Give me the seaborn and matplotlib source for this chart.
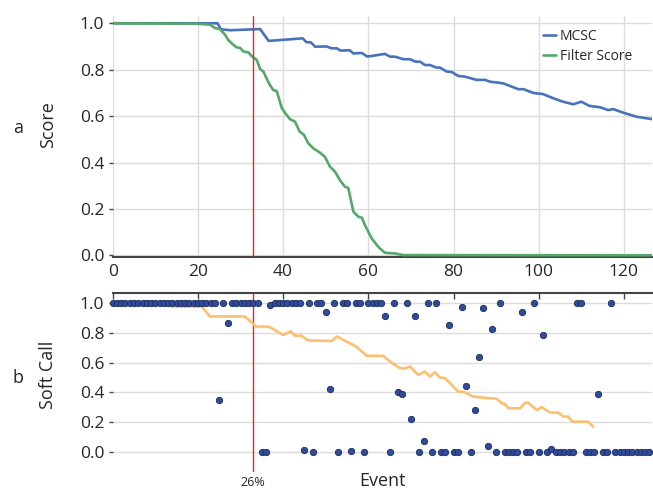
import pandas as pd
import seaborn as sns
import matplotlib.pyplot as plt

# panel a: score curves, vertices (event, score)
mcsc_x = [0, 24.6, 25.4, 27.6, 34.6, 36.6, 44.6, 45.5, 46.5, 47.5, 50.2, 51.4, 52.6, 53.5,
          55.6, 56.5, 58.5, 59.7, 60.8, 62.8, 63.9, 65.1, 66.3, 68.2, 69.8, 71.0, 72.2,
          73.3, 74.5, 76.0, 76.8, 78.4, 79.6, 81.1, 82.7, 85.4, 87.4, 88.6, 90.5, 91.7,
          95.2, 96.4, 98.7, 99.5, 101.0, 103.4, 105.7, 108.1, 110.0, 111.9, 114.4, 116.3,
          117.5, 119.8, 123.0, 126.6]
mcsc_y = [1.0, 1.0, 0.974, 0.970, 0.975, 0.924, 0.935, 0.918, 0.918, 0.899, 0.900, 0.892,
          0.892, 0.882, 0.884, 0.870, 0.872, 0.857, 0.859, 0.865, 0.868, 0.856, 0.856,
          0.845, 0.845, 0.835, 0.834, 0.820, 0.820, 0.809, 0.809, 0.792, 0.790, 0.773,
          0.770, 0.756, 0.756, 0.748, 0.744, 0.741, 0.716, 0.716, 0.700, 0.698, 0.695,
          0.677, 0.662, 0.651, 0.662, 0.644, 0.638, 0.626, 0.630, 0.615, 0.597, 0.587]

filt_x = [0, 19.7, 22.8, 24.0, 25.2, 26.4, 27.1, 28.2, 29.1, 29.9, 30.7, 31.8, 32.6, 33.8,
          34.6, 35.4, 36.1, 36.9, 37.7, 38.5, 39.7, 40.8, 41.6, 42.8, 43.9, 44.9, 45.9,
          47.1, 48.7, 49.8, 51.0, 52.2, 53.3, 54.5, 55.3, 56.5, 57.7, 58.5, 59.2, 60.8,
          62.0, 62.7, 63.9, 66.3, 68.2, 126.6]
filt_y = [1.0, 0.998, 0.994, 0.980, 0.974, 0.950, 0.928, 0.909, 0.896, 0.894, 0.878, 0.875,
          0.859, 0.842, 0.803, 0.791, 0.763, 0.734, 0.712, 0.708, 0.634, 0.605, 0.587,
          0.576, 0.533, 0.519, 0.483, 0.461, 0.442, 0.425, 0.382, 0.360, 0.325, 0.296,
          0.290, 0.188, 0.166, 0.162, 0.130, 0.073, 0.044, 0.030, 0.011, 0.008, 0.001, 0.0]

# panel b: soft call per event (events 0..126)
soft_call = [
    1, 1, 1, 1, 1, 1, 1, 1, 1, 1,                                   # 0-9
    1, 1, 1, 1, 1, 1, 1, 1, 1, 1,                                   # 10-19
    1, 1, 1, 1, 1, 0.35, 1, 0.865, 1, 1,                            # 20-29
    1, 1, 1, 1, 1, 0, 0, 0.985, 1, 1,                               # 30-39
    1, 1, 1, 1, 1, 0.011, 1, 0, 1, 1,                               # 40-49
    0.943, 0.42, 1, 0, 1, 1, 0.005, 1, 1, 0,                        # 50-59
    1, 1, 1, 1, 0.91, 0, 1, 0.40, 0.39, 1,                          # 60-69
    0.22, 0.91, 0, 0.072, 1, 0, 1, 0, 0, 0.854,                     # 70-79
    0, 0, 0.977, 0.44, 0, 0.281, 0.636, 0.964, 0.036, 0.825,        # 80-89
    0, 1, 0, 0, 0, 0, 0.943, 0, 0, 1,                               # 90-99
    0, 0.784, 0, 0.02, 0, 0, 0, 0, 0, 1,                            # 100-109
    1, 0, 0, 0, 0.387, 0, 0, 1, 0, 0,                               # 110-119
    0, 0, 0, 0, 0, 0, 0,                                            # 120-126
]
events = list(range(len(soft_call)))

# running mean of the soft call (orange)
mean_x = [13.8, 20.9, 22.8, 31.0, 32.6, 33.7, 36.5, 37.7, 40.0, 41.8, 42.8, 44.3, 45.9,
          51.4, 52.7, 54.9, 57.2, 59.6, 63.5, 65.1, 67.4, 68.6, 69.8, 71.7, 73.3, 74.5,
          75.6, 76.8, 78.0, 81.1, 82.3, 84.6, 88.2, 90.1, 91.3, 92.0, 92.9, 95.6, 96.9,
          97.6, 99.5, 100.7, 102.7, 104.6, 105.8, 107.0, 107.8, 111.6, 112.8]
mean_y = [0.977, 0.977, 0.910, 0.910, 0.870, 0.842, 0.842, 0.825, 0.786, 0.810, 0.780,
          0.780, 0.748, 0.745, 0.775, 0.740, 0.707, 0.645, 0.645, 0.607, 0.562, 0.560,
          0.573, 0.517, 0.539, 0.505, 0.535, 0.499, 0.495, 0.404, 0.404, 0.371, 0.360,
          0.357, 0.326, 0.322, 0.292, 0.292, 0.330, 0.328, 0.281, 0.299, 0.263, 0.263,
          0.236, 0.236, 0.202, 0.202, 0.168]

cut_event = 33
cut_label = "26%"
x_ticks = [0, 20, 40, 60, 80, 100, 120]
y_ticks = [0.0, 0.2, 0.4, 0.6, 0.8, 1.0]


def main():
    sns.set_style("white")
    plt.rcParams['font.family'] = ['Open Sans', 'DejaVu Sans']

    fig = plt.figure(figsize=(6.53, 4.91), dpi=100)
    ax1 = fig.add_axes([0.1726, 0.4762, 0.8259, 0.4906])
    ax2 = fig.add_axes([0.1726, 0.0377, 0.8259, 0.3662])

    scores = pd.concat([
        pd.DataFrame({"event": mcsc_x, "score": mcsc_y, "series": "MCSC"}),
        pd.DataFrame({"event": filt_x, "score": filt_y, "series": "Filter Score"}),
    ])
    sns.lineplot(data=scores, x="event", y="score", hue="series", estimator=None,
                 palette={"MCSC": "#4872BA", "Filter Score": "#55A868"},
                 linewidth=1.9, ax=ax1, zorder=3)
    ax1.axvline(cut_event, color="#e0282c", lw=1, zorder=4)

    ax1.set_xlim(0, 126.6)
    ax1.set_ylim(-0.008, 1.03)
    ax1.set_xticks(x_ticks)
    ax1.set_yticks(y_ticks)
    ax1.set_yticklabels(["%.1f" % v for v in y_ticks])
    ax1.grid(True, color="#dcdcdc", lw=1)
    ax1.set_axisbelow(True)
    sns.despine(ax=ax1, left=True)
    ax1.spines["bottom"].set_color("#444444")
    ax1.spines["bottom"].set_linewidth(1.5)
    ax1.tick_params(axis="x", direction="in", length=4, width=1, color="#444444",
                    labelsize=12.5, pad=5)
    ax1.tick_params(axis="y", direction="out", length=3, width=1, color="#444444",
                    labelsize=12.5, pad=3, left=True)
    ax1.set_xlabel("")
    ax1.set_ylabel("Score", fontsize=13)
    ax1.yaxis.set_label_coords(-0.103, 0.55)
    ax1.legend(loc="upper left", bbox_to_anchor=(543 / 653, 1 - 29 / 491),
               bbox_transform=fig.transFigure, frameon=False, fontsize=10,
               borderpad=0, borderaxespad=0, handlelength=0.9, handletextpad=0.3,
               labelspacing=0.35)

    sns.lineplot(x=mean_x, y=mean_y, color="#fdbf6f", linewidth=1.9, ax=ax2, zorder=2)
    sns.scatterplot(x=events, y=soft_call, ax=ax2, s=21, color="#2f4b9b",
                    edgecolor="#1a2a5c", linewidth=0.6, clip_on=False, zorder=3)
    ax2.axvline(cut_event, color="#e0282c", lw=1, zorder=1)

    ax2.set_xlim(0, 126.6)
    ax2.set_ylim(-0.14, 1.07)
    ax2.set_xticks(x_ticks)
    ax2.set_yticks(y_ticks)
    ax2.set_yticklabels(["%.1f" % v for v in y_ticks])
    ax2.grid(axis="y", color="#dcdcdc", lw=1)
    ax2.set_axisbelow(True)
    for side in ["left", "right", "bottom"]:
        ax2.spines[side].set_visible(False)
    ax2.spines["top"].set_color("#444444")
    ax2.spines["top"].set_linewidth(1.5)
    ax2.xaxis.tick_top()
    ax2.tick_params(axis="x", direction="in", length=4, width=1, color="#444444",
                    labeltop=False, labelbottom=False)
    ax2.tick_params(axis="y", direction="out", length=3, width=1, color="#444444",
                    labelsize=12.5, pad=3, left=True)
    ax2.xaxis.set_label_position("bottom")
    ax2.set_xlabel("Event", fontsize=13, labelpad=0)
    ax2.set_ylabel("Soft Call", fontsize=13)
    ax2.yaxis.set_label_coords(-0.103, 0.542)
    ax2.annotate(cut_label, xy=(cut_event, -0.14), xycoords="data",
                 xytext=(0, -2.5), textcoords="offset points",
                 ha="center", va="top", fontsize=9, annotation_clip=False)

    fig.text(18 / 653, 1 - 128 / 491, "a", fontsize=13, ha="center", va="center")
    fig.text(18 / 653, 1 - 378 / 491, "b", fontsize=13, ha="center", va="center")

    plt.savefig("out.png", dpi=100)


if __name__ == "__main__":
    main()
